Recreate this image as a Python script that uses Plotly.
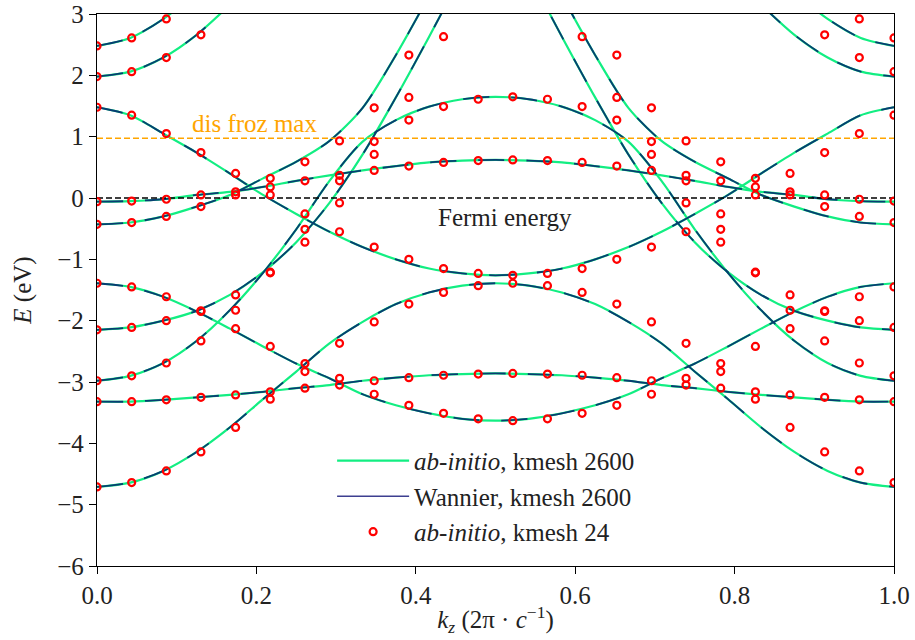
import plotly.graph_objects as go

# ---------------- data ----------------
# dense-mesh band energies sampled at k = i/24 (i = 0..24); None = off chart
k_line = [0.0, 0.0417, 0.0833, 0.125, 0.1667, 0.2083, 0.25, 0.2917, 0.3333,
          0.375, 0.4167, 0.4583, 0.5, 0.5417, 0.5833, 0.625, 0.6667, 0.7083,
          0.75, 0.7917, 0.8333, 0.875, 0.9167, 0.9583, 1.0]

band_F = [-4.71, -4.64, -4.45, -4.14, -3.74, -3.28, -2.83, -2.37, -2.02, -1.73, -1.54, -1.43, -1.39,
          -1.43, -1.54, -1.73, -2.02, -2.37, -2.83, -3.28, -3.74, -4.14, -4.45, -4.64, -4.71]
band_flat = [-3.32, -3.32, -3.29, -3.25, -3.21, -3.16, -3.10, -3.05, -2.98, -2.93, -2.89, -2.87, -2.86,
             -2.87, -2.89, -2.93, -2.98, -3.05, -3.10, -3.16, -3.21, -3.25, -3.29, -3.32, -3.32]
band_G = [-1.39, -1.45, -1.61, -1.85, -2.13, -2.42, -2.70, -2.94, -3.20, -3.38, -3.51, -3.60, -3.63,
          -3.60, -3.51, -3.38, -3.20, -2.94, -2.70, -2.42, -2.13, -1.85, -1.61, -1.45, -1.39]
band_P = [-2.98, -2.90, -2.69, -2.33, -1.83, -1.22, -0.51, 0.28, 0.92, 1.27, 1.49, 1.61, 1.65,
          1.61, 1.49, 1.27, 0.92, 0.28, -0.51, -1.22, -1.83, -2.33, -2.69, -2.90, -2.98]
band_H = [-2.15, -2.11, -2.00, -1.84, -1.58, -1.21, -0.72, -0.08, 0.71, 1.64, 2.63, 3.65, None,
          3.65, 2.63, 1.64, 0.71, -0.08, -0.72, -1.21, -1.58, -1.84, -2.00, -2.11, -2.15]
band_C = [1.48, 1.35, 1.05, 0.74, 0.40, 0.05, -0.26, -0.55, -0.80, -1.00, -1.15, -1.23, -1.26,
          -1.23, -1.15, -1.00, -0.80, -0.55, -0.26, 0.05, 0.40, 0.74, 1.05, 1.35, 1.48]
band_D = [-0.06, -0.05, -0.02, 0.05, 0.10, 0.18, 0.28, 0.37, 0.45, 0.52, 0.58, 0.61, 0.62,
          0.61, 0.58, 0.52, 0.45, 0.37, 0.28, 0.18, 0.10, 0.05, -0.02, -0.05, -0.06]
band_E = [-0.43, -0.40, -0.30, -0.14, 0.05, 0.32, 0.59, 0.93, 1.47, 2.33, 3.30, None, None,
          None, 3.30, 2.33, 1.47, 0.93, 0.59, 0.32, 0.05, -0.14, -0.30, -0.40, -0.43]
band_B = [1.98, 2.06, 2.29, 2.66, 3.15, None, None, None, None, None, None, None, None,
          None, None, None, None, None, None, None, 3.15, 2.66, 2.29, 2.06, 1.98]
band_A = [2.48, 2.61, 2.92, 3.35, None, None, None, None, None, None, None, None, None,
          None, None, None, None, None, None, None, None, 3.35, 2.92, 2.61, 2.48]

# coarse (24-point) ab-initio mesh: energies of the first 24 samples above,
# plotted against 24 evenly spaced positions
k_mesh24 = [0.0, 0.0435, 0.087, 0.1304, 0.1739, 0.2174, 0.2609, 0.3043, 0.3478, 0.3913,
            0.4348, 0.4783, 0.5217, 0.5652, 0.6087, 0.6522, 0.6957, 0.7391, 0.7826,
            0.8261, 0.8696, 0.913, 0.9565, 1.0]

fermi_energy = 0.0
dis_froz_max = 0.975

x_ticks = [0.0, 0.2, 0.4, 0.6, 0.8, 1.0]
y_ticks = [3, 2, 1, 0, -1, -2, -3, -4, -5, -6]

bands = [band_F, band_flat, band_G, band_P, band_H, band_C, band_D, band_E, band_B, band_A]

# ---------------- styling ----------------
GREEN = "#12ee82"
NAVY = "#083c72"
FONT = "Liberation Serif"

fig = go.Figure()

for b in bands:
    fig.add_trace(go.Scatter(x=k_line, y=b, mode="lines", line=dict(color=GREEN, width=2.2, shape="spline", smoothing=0.8),
                             showlegend=False, hoverinfo="skip", connectgaps=False))
for b in bands:
    fig.add_trace(go.Scatter(x=k_line, y=b, mode="lines",
                             line=dict(color=NAVY, width=1.8, shape="spline", smoothing=0.8, dash="26px,22px"),
                             showlegend=False, hoverinfo="skip", connectgaps=False))

# horizontal reference lines
fig.add_trace(go.Scatter(x=[x_ticks[0], x_ticks[-1]], y=[dis_froz_max, dis_froz_max], mode="lines",
                         line=dict(color="#ffa500", width=1.6, dash="6px,3px"), showlegend=False, hoverinfo="skip"))
fig.add_trace(go.Scatter(x=[x_ticks[0], x_ticks[-1]], y=[fermi_energy, fermi_energy], mode="lines",
                         line=dict(color="black", width=1.6, dash="6px,3px"), showlegend=False, hoverinfo="skip"))

# coarse-mesh red circles
rx, ry = [], []
for b in bands:
    for i, kx in enumerate(k_mesh24):
        v = b[i]
        if v is not None and v <= 3:
            rx.append(kx)
            ry.append(v)
fig.add_trace(go.Scatter(x=rx, y=ry, mode="markers",
                         marker=dict(symbol="circle-open", size=7, color="red", line=dict(width=2.2, color="red")),
                         showlegend=False, hoverinfo="skip"))

# legend entries
fig.add_trace(go.Scatter(x=[None], y=[None], mode="lines", line=dict(color=GREEN, width=2.2),
                         name="<i>ab-initio</i>, kmesh 2600"))
fig.add_trace(go.Scatter(x=[None], y=[None], mode="lines", line=dict(color="#3d3f90", width=1.6),
                         name="Wannier, kmesh 2600"))
fig.add_trace(go.Scatter(x=[None], y=[None], mode="markers",
                         marker=dict(symbol="circle-open", size=7, color="red", line=dict(width=2.2, color="red")),
                         name="<i>ab-initio</i>, kmesh 24"))

fig.add_annotation(x=0.197, y=1.21, text="dis froz max", showarrow=False,
                   font=dict(family=FONT, size=25, color="#ffa500"), xanchor="center", yanchor="middle")
fig.add_annotation(x=0.512, y=-0.31, text="Fermi energy", showarrow=False,
                   font=dict(family=FONT, size=25, color="#222222"), xanchor="center", yanchor="middle")

axis_common = dict(showline=True, linecolor="black", linewidth=1.3, mirror=True, ticks="outside",
                   ticklen=7, tickwidth=1.2, tickcolor="black", showgrid=False, zeroline=False,
                   automargin=False,
                   tickfont=dict(family=FONT, size=25, color="#222222"))

fig.update_layout(
    width=915, height=640,
    margin=dict(l=97, r=21, t=14, b=74),
    paper_bgcolor="white", plot_bgcolor="white",
    font=dict(family=FONT, size=25, color="#222222"),
    xaxis=dict(range=[0, 1], tickvals=x_ticks, tickformat=".1f",
               title=dict(text="<i>k</i><sub><i>z</i></sub> (2π · <i>c</i><sup>−1</sup>)",
                          font=dict(family=FONT, size=25), standoff=2),
               **axis_common),
    yaxis=dict(range=[-6, 3], tickvals=y_ticks,
               title=dict(text="<i>E</i> (eV)", font=dict(family=FONT, size=25), standoff=18),
               **axis_common),
    legend=dict(x=0.295, y=0.232, xanchor="left", yanchor="top", bgcolor="rgba(0,0,0,0)",
                font=dict(family=FONT, size=25, color="#222222"), itemwidth=72, tracegroupgap=0),
    showlegend=True,
)

fig.write_html("out.html")
